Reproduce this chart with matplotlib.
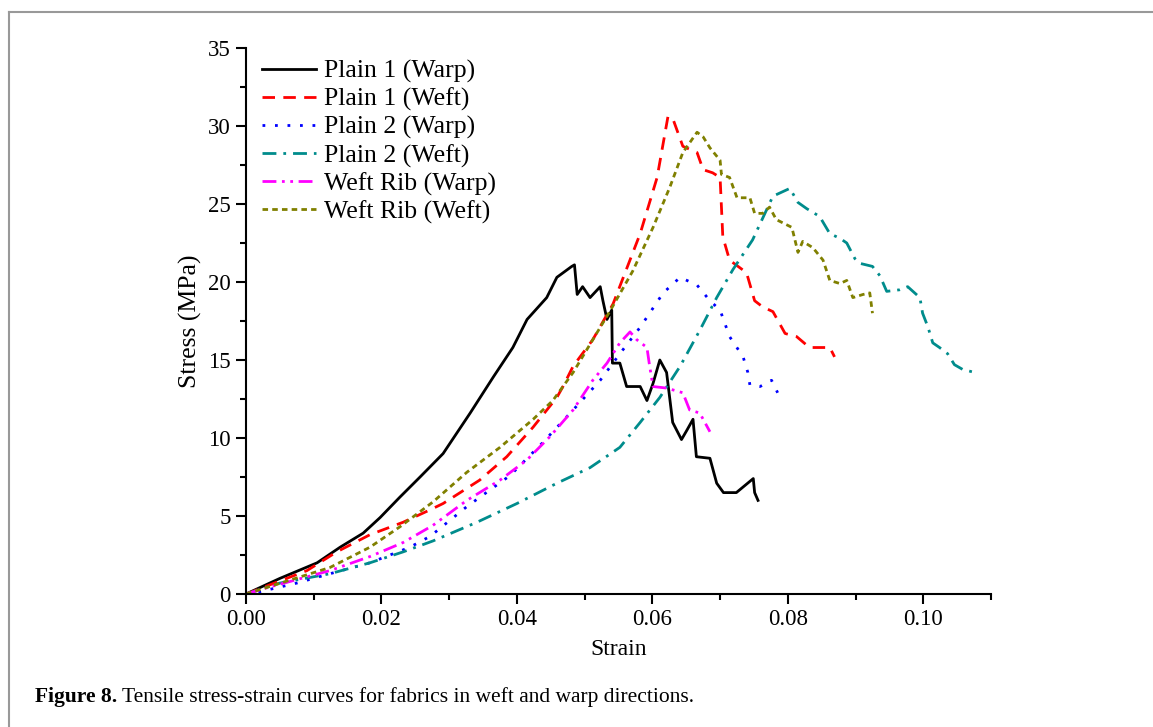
import matplotlib
matplotlib.use("Agg")
import matplotlib.pyplot as plt
from matplotlib.lines import Line2D
from matplotlib.ticker import MultipleLocator

plt.rcParams['font.family'] = ['Liberation Serif', 'DejaVu Serif']

# ---- data ----
p1_warp_x = [0.0, 0.005, 0.0105, 0.0139, 0.0173, 0.0198, 0.0227, 0.0257, 0.0291, 0.0331, 0.0365,
             0.0394, 0.0415, 0.0444, 0.0459, 0.0481, 0.0485, 0.0489, 0.0497, 0.0508, 0.0523, 0.0527,
             0.0533, 0.0540, 0.0541, 0.0552, 0.0562, 0.0582, 0.0592, 0.0601, 0.0611, 0.0621, 0.0630,
             0.0643, 0.0651, 0.0660, 0.0665, 0.0685, 0.0695, 0.0705, 0.0724, 0.0749, 0.0751, 0.0756]
p1_warp_y = [0.0, 1.0, 2.0, 3.0, 3.9, 4.9, 6.2, 7.5, 9.0, 11.6, 13.9,
             15.8, 17.6, 19.0, 20.3, 21.0, 21.1, 19.2, 19.7, 19.0, 19.7, 18.8,
             17.6, 18.2, 14.8, 14.8, 13.3, 13.3, 12.4, 13.5, 15.0, 14.2, 11.0,
             9.9, 10.5, 11.2, 8.8, 8.7, 7.1, 6.5, 6.5, 7.4, 6.5, 6.0]

p1_weft_x = [0.0, 0.009, 0.0134, 0.0183, 0.0232, 0.0272, 0.0291, 0.0345, 0.0385, 0.0424, 0.0459,
             0.0468, 0.0483, 0.0512, 0.0542, 0.0582, 0.0607, 0.0623, 0.0630, 0.0645, 0.0666, 0.0675,
             0.0689, 0.0700, 0.0704, 0.0714, 0.0739, 0.0751, 0.0763, 0.0778, 0.0796, 0.0813, 0.0832,
             0.0862, 0.0869]
p1_weft_y = [0.0, 1.5, 2.7, 3.8, 4.6, 5.4, 5.8, 7.3, 8.8, 10.7, 12.6,
             13.3, 14.6, 16.3, 18.6, 23.1, 26.7, 30.6, 30.5, 28.7, 28.3, 27.2,
             27.0, 26.7, 22.9, 21.4, 20.6, 18.8, 18.4, 18.1, 16.7, 16.5, 15.8,
             15.8, 15.2]

p2_warp_x = [0.0, 0.0016, 0.0075, 0.0124, 0.0183, 0.0242, 0.0272, 0.0326, 0.0390, 0.0438, 0.0483,
             0.0523, 0.0552, 0.0582, 0.0616, 0.0641, 0.0666, 0.0685, 0.0700, 0.0714, 0.0734, 0.0741,
             0.0744, 0.0759, 0.0776, 0.0785]
p2_warp_y = [0.0, 0.1, 0.7, 1.3, 2.0, 3.0, 3.7, 5.6, 7.6, 9.7, 11.8,
             13.7, 15.4, 17.1, 19.3, 20.3, 19.8, 18.8, 18.2, 16.5, 15.2, 14.2,
             13.4, 13.3, 13.7, 12.9]

p2_weft_x = [0.0, 0.005, 0.0124, 0.0183, 0.0232, 0.0276, 0.0341, 0.0400, 0.0459, 0.0508, 0.0552,
             0.0582, 0.0611, 0.0641, 0.0670, 0.0695, 0.0719, 0.0748, 0.0778, 0.0803, 0.0815, 0.0828,
             0.0847, 0.0862, 0.0877, 0.0887, 0.0899, 0.0906, 0.0925, 0.0936, 0.0946, 0.0965, 0.0977,
             0.0995, 0.0999, 0.1007, 0.1014, 0.1024, 0.1036, 0.1046, 0.1058, 0.1076]
p2_weft_y = [0.0, 0.7, 1.3, 2.0, 2.7, 3.4, 4.6, 5.8, 7.1, 8.1, 9.4,
             11.0, 12.6, 14.6, 16.9, 19.0, 20.8, 22.7, 25.5, 26.0, 25.1, 24.7,
             24.2, 23.1, 22.8, 22.5, 21.5, 21.2, 21.0, 20.4, 19.4, 19.5, 19.7,
             19.0, 18.0, 17.1, 16.1, 15.8, 15.4, 14.7, 14.4, 14.2]

rib_warp_x = [0.0, 0.0035, 0.0124, 0.0183, 0.0232, 0.0276, 0.0326, 0.0375, 0.0415, 0.0449, 0.0483,
              0.0512, 0.0533, 0.0552, 0.0567, 0.0577, 0.0592, 0.0596, 0.0601, 0.0621, 0.0645, 0.0655,
              0.0670, 0.0675, 0.0685]
rib_warp_y = [0.0, 0.45, 1.5, 2.4, 3.3, 4.4, 6.0, 7.3, 8.6, 10.1, 11.8,
              13.7, 14.8, 16.1, 16.8, 16.3, 15.8, 14.6, 13.3, 13.2, 12.9, 11.8,
              11.6, 11.2, 10.4]

rib_weft_x = [0.0, 0.0124, 0.0183, 0.0227, 0.0276, 0.0326, 0.0375, 0.0424, 0.0453, 0.0483, 0.0512,
              0.0537, 0.0571, 0.0601, 0.0626, 0.0645, 0.0666, 0.0675, 0.0685, 0.0700, 0.0702, 0.0714,
              0.0725, 0.0744, 0.0751, 0.0763, 0.0773, 0.0783, 0.0806, 0.0815, 0.0822, 0.0837, 0.0852,
              0.0862, 0.0877, 0.0887, 0.0896, 0.0911, 0.0921, 0.0925]
rib_weft_y = [0.0, 1.7, 3.0, 4.3, 5.9, 7.8, 9.4, 11.2, 12.4, 14.2, 16.3,
              18.1, 20.7, 23.5, 26.1, 28.3, 29.6, 29.3, 28.6, 27.8, 26.9, 26.7,
              25.4, 25.4, 24.4, 24.4, 24.8, 24.0, 23.5, 21.9, 22.6, 22.2, 21.4,
              20.1, 19.9, 20.1, 19.0, 19.2, 19.3, 18.0]

labels = ["Plain 1 (Warp)", "Plain 1 (Weft)", "Plain 2 (Warp)", "Plain 2 (Weft)",
          "Weft Rib (Warp)", "Weft Rib (Weft)"]
xticks = [0.00, 0.02, 0.04, 0.06, 0.08, 0.10]
xtick_labels = ["0.00", "0.02", "0.04", "0.06", "0.08", "0.10"]
yticks = [0, 5, 10, 15, 20, 25, 30, 35]

# ---- figure ----
fig = plt.figure(figsize=(11.53, 7.27), dpi=100)
W, H = 1153, 727
ax = fig.add_axes([246 / W, 1 - 594 / H, (991 - 246) / W, (594 - 48) / H])

lw = 2.0
series = [
    (p1_warp_x, p1_warp_y, dict(color="black", linestyle="-")),
    (p1_weft_x, p1_weft_y, dict(color="#ff0000", linestyle=(0, (4.5, 3)))),
    (p2_warp_x, p2_warp_y, dict(color="#0000ff", linestyle=(0, (1, 3.5)))),
    (p2_weft_x, p2_weft_y, dict(color="#008c8c", linestyle=(0, (5, 2.5, 1, 2.5)))),
    (rib_warp_x, rib_warp_y, dict(color="#ff00ff", linestyle=(0, (5, 2, 1, 2, 1, 2)))),
    (rib_weft_x, rib_weft_y, dict(color="#808000", linestyle=(0, (2, 1.5)))),
]
for (xs, ys, st), lab in zip(series, labels):
    ax.plot(xs, ys, lw=lw, label=lab, **st)

ax.set_xlim(0, 0.11)
ax.set_ylim(0, 35)
ax.set_xticks(xticks)
ax.set_xticklabels(xtick_labels)
ax.set_yticks(yticks)
ax.xaxis.set_minor_locator(MultipleLocator(0.01))
ax.yaxis.set_minor_locator(MultipleLocator(2.5))
for s in ["top", "right"]:
    ax.spines[s].set_visible(False)
for s in ["left", "bottom"]:
    ax.spines[s].set_linewidth(1.5)
ax.tick_params(which="major", direction="out", length=7, width=1.5, labelsize=16.5, pad=4)
ax.tick_params(which="minor", direction="out", length=4, width=1.5)

ax.set_xlabel("Strain", fontsize=17, labelpad=6)
ax.set_ylabel("Stress (MPa)", fontsize=18.5, labelpad=4)

leg = ax.legend(loc="upper left", bbox_to_anchor=(262 / W, 1 - 60 / H), bbox_transform=fig.transFigure,
                frameon=False, fontsize=18.5, handlelength=2.1, handletextpad=0.3,
                labelspacing=0.18, borderaxespad=0, borderpad=0)

# frame and caption
fig.add_artist(Line2D([9 / W, 9 / W], [0, 1 - 12 / H], color="#999999", lw=1.5, transform=fig.transFigure))
fig.add_artist(Line2D([9 / W, 1.0], [1 - 12 / H, 1 - 12 / H], color="#999999", lw=1.5, transform=fig.transFigure))

t1 = fig.text(35 / W, 1 - 697 / H, "Figure 8.", fontsize=15.5, fontweight="bold", va="center", ha="left")
fig.canvas.draw()
bb = t1.get_window_extent(renderer=fig.canvas.get_renderer())
fig.text((bb.x1 + 5) / W, 1 - 697 / H, "Tensile stress-strain curves for fabrics in weft and warp directions.",
         fontsize=15.5, va="center", ha="left")

fig.savefig("out.png", dpi=100)
